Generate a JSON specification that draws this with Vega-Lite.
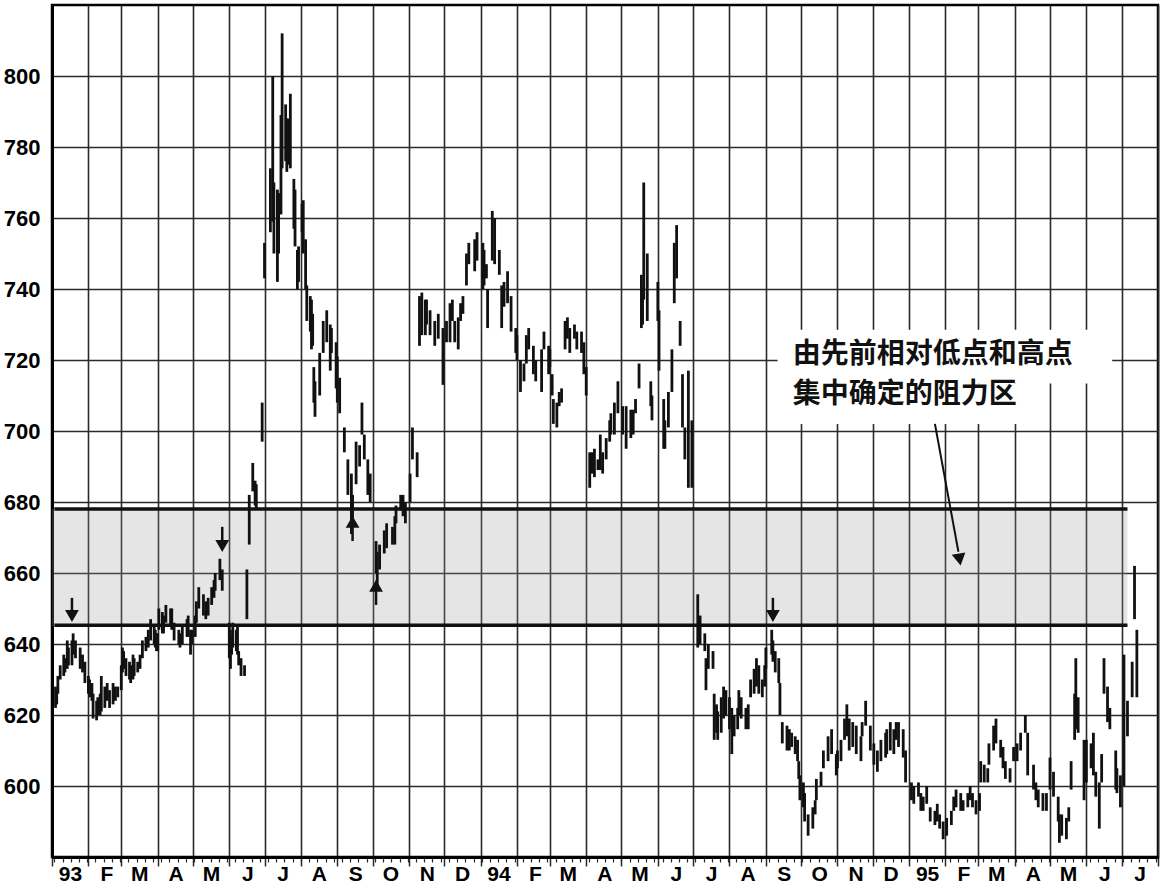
{
"$schema":"https://vega.github.io/schema/vega-lite/v6.json",
"width":1106,"height":852,
"autosize":{"type":"none"},
"padding":{"left":52,"top":5,"right":5,"bottom":29},
"background":"white",
"config":{"view":{"stroke":"#000","strokeWidth":2.5},
"axis":{"labelFont":"Liberation Sans","labelFontWeight":"bold","labelFontSize":22,"labelColor":"#000","gridColor":"#2a2a2a","gridWidth":1.6,"gridOpacity":1,"domainColor":"#000","domainWidth":3,"tickColor":"#2a2a2a","tickWidth":1.5}},
"datasets":{
"bars":[
{"d":"1993-01-04","h":628,"l":622},{"d":"1993-01-05","h":627,"l":623},{"d":"1993-01-06","h":631,"l":626},{"d":"1993-01-08","h":634,"l":630},{"d":"1993-01-11","h":637,"l":631},{"d":"1993-01-12","h":636,"l":632},{"d":"1993-01-14","h":641,"l":633},{"d":"1993-01-15","h":639,"l":634},{"d":"1993-01-18","h":641,"l":634},{"d":"1993-01-19","h":643,"l":637},{"d":"1993-01-21","h":641,"l":636},{"d":"1993-01-25","h":639,"l":633},{"d":"1993-01-27","h":637,"l":632},{"d":"1993-01-29","h":635,"l":629},
{"d":"1993-02-01","h":631,"l":626},{"d":"1993-02-02","h":630,"l":625},{"d":"1993-02-04","h":629,"l":624},{"d":"1993-02-05","h":626,"l":619},{"d":"1993-02-08","h":624,"l":618.5},{"d":"1993-02-09","h":625,"l":620},{"d":"1993-02-11","h":626,"l":620},{"d":"1993-02-12","h":631,"l":621},{"d":"1993-02-15","h":628,"l":622},{"d":"1993-02-17","h":629,"l":624},{"d":"1993-02-19","h":627,"l":622},{"d":"1993-02-22","h":629,"l":623},{"d":"1993-02-24","h":628,"l":624},{"d":"1993-02-26","h":628,"l":625},
{"d":"1993-03-01","h":634,"l":627},{"d":"1993-03-02","h":639,"l":632},{"d":"1993-03-03","h":638,"l":633},{"d":"1993-03-05","h":636,"l":631},{"d":"1993-03-08","h":635,"l":630},{"d":"1993-03-09","h":634,"l":629},{"d":"1993-03-11","h":637,"l":630},{"d":"1993-03-12","h":636,"l":631},{"d":"1993-03-15","h":635,"l":632},{"d":"1993-03-17","h":637,"l":633},{"d":"1993-03-19","h":641,"l":636},{"d":"1993-03-22","h":642,"l":638},{"d":"1993-03-24","h":644,"l":639},{"d":"1993-03-26","h":647,"l":641},{"d":"1993-03-29","h":645,"l":640},{"d":"1993-03-30","h":644,"l":639},{"d":"1993-03-31","h":643,"l":638},
{"d":"1993-04-01","h":643,"l":638},{"d":"1993-04-02","h":650,"l":644},{"d":"1993-04-05","h":649,"l":643},{"d":"1993-04-06","h":648,"l":643},{"d":"1993-04-08","h":651,"l":646},{"d":"1993-04-12","h":650,"l":645},{"d":"1993-04-13","h":650,"l":644},{"d":"1993-04-15","h":646,"l":641},{"d":"1993-04-19","h":644,"l":640},{"d":"1993-04-20","h":643,"l":639},{"d":"1993-04-22","h":645,"l":640},{"d":"1993-04-26","h":647,"l":642},{"d":"1993-04-27","h":648,"l":642},{"d":"1993-04-29","h":644,"l":637},{"d":"1993-04-30","h":644,"l":640},
{"d":"1993-05-03","h":648,"l":642},{"d":"1993-05-04","h":652,"l":646},{"d":"1993-05-06","h":656,"l":650},{"d":"1993-05-10","h":654,"l":648},{"d":"1993-05-12","h":652,"l":647},{"d":"1993-05-14","h":653,"l":648},{"d":"1993-05-17","h":656,"l":651},{"d":"1993-05-19","h":658,"l":653},{"d":"1993-05-20","h":660,"l":655},{"d":"1993-05-24","h":664,"l":658},{"d":"1993-05-26","h":661,"l":655},
{"d":"1993-06-01","h":646,"l":636},{"d":"1993-06-02","h":644,"l":633},{"d":"1993-06-03","h":642,"l":637},{"d":"1993-06-04","h":646,"l":639},{"d":"1993-06-07","h":644,"l":638},{"d":"1993-06-08","h":645,"l":637},{"d":"1993-06-09","h":638,"l":634},{"d":"1993-06-11","h":636,"l":631},{"d":"1993-06-14","h":634,"l":631},{"d":"1993-06-16","h":661,"l":647},{"d":"1993-06-18","h":682,"l":668},{"d":"1993-06-21","h":691,"l":683},{"d":"1993-06-23","h":686,"l":679},{"d":"1993-06-24","h":685,"l":678},{"d":"1993-06-29","h":708,"l":697},
{"d":"1993-07-01","h":753,"l":743},{"d":"1993-07-06","h":774,"l":756},{"d":"1993-07-08","h":800,"l":759},{"d":"1993-07-09","h":770,"l":750},{"d":"1993-07-12","h":768,"l":742},{"d":"1993-07-13","h":767,"l":750},{"d":"1993-07-15","h":789,"l":761},{"d":"1993-07-16","h":812,"l":774},{"d":"1993-07-19","h":792,"l":776},{"d":"1993-07-20","h":788,"l":773},{"d":"1993-07-21","h":788,"l":775},{"d":"1993-07-23","h":795,"l":774},{"d":"1993-07-26","h":771,"l":757},{"d":"1993-07-27","h":768,"l":752},{"d":"1993-07-29","h":751,"l":740},{"d":"1993-07-30","h":752,"l":742},
{"d":"1993-08-02","h":764,"l":756},{"d":"1993-08-03","h":765,"l":750},{"d":"1993-08-05","h":754,"l":740},{"d":"1993-08-06","h":741,"l":731},{"d":"1993-08-09","h":738,"l":728},{"d":"1993-08-10","h":737,"l":723},{"d":"1993-08-11","h":733,"l":724},{"d":"1993-08-12","h":718,"l":708},{"d":"1993-08-13","h":714,"l":704},{"d":"1993-08-17","h":722,"l":710},{"d":"1993-08-20","h":731,"l":722},{"d":"1993-08-23","h":734,"l":725},{"d":"1993-08-26","h":730,"l":717},{"d":"1993-08-27","h":729,"l":722},{"d":"1993-08-31","h":725,"l":712},
{"d":"1993-09-01","h":721,"l":708},{"d":"1993-09-03","h":715,"l":705},{"d":"1993-09-07","h":701,"l":694},{"d":"1993-09-10","h":692,"l":682},{"d":"1993-09-13","h":688,"l":671},{"d":"1993-09-14","h":682,"l":673},{"d":"1993-09-17","h":697,"l":685},{"d":"1993-09-20","h":696,"l":690},{"d":"1993-09-22","h":708,"l":699},{"d":"1993-09-24","h":699,"l":692},{"d":"1993-09-27","h":692,"l":682},{"d":"1993-09-29","h":688,"l":680},
{"d":"1993-10-04","h":669,"l":660},{"d":"1993-10-05","h":666,"l":655},{"d":"1993-10-07","h":668,"l":661},{"d":"1993-10-11","h":672,"l":665.5},{"d":"1993-10-13","h":674,"l":667},{"d":"1993-10-18","h":673,"l":668},{"d":"1993-10-20","h":676,"l":668},{"d":"1993-10-21","h":679,"l":674},{"d":"1993-10-25","h":682,"l":677.6},{"d":"1993-10-27","h":682,"l":676},{"d":"1993-10-29","h":680,"l":674},
{"d":"1993-11-02","h":688,"l":680},{"d":"1993-11-04","h":701,"l":692},{"d":"1993-11-08","h":694,"l":687},{"d":"1993-11-10","h":738,"l":724},{"d":"1993-11-12","h":739,"l":727},{"d":"1993-11-15","h":737,"l":727},{"d":"1993-11-16","h":737,"l":730},{"d":"1993-11-19","h":734,"l":727},{"d":"1993-11-23","h":731,"l":724},{"d":"1993-11-26","h":733,"l":726},{"d":"1993-11-30","h":729,"l":713},
{"d":"1993-12-03","h":731,"l":725},{"d":"1993-12-06","h":736,"l":725},{"d":"1993-12-08","h":737,"l":731},{"d":"1993-12-10","h":731,"l":725},{"d":"1993-12-13","h":732,"l":723},{"d":"1993-12-15","h":736,"l":731},{"d":"1993-12-17","h":738,"l":733},{"d":"1993-12-20","h":750,"l":741},{"d":"1993-12-22","h":753,"l":747},{"d":"1993-12-27","h":754,"l":745},{"d":"1993-12-29","h":756,"l":748},
{"d":"1994-01-03","h":753,"l":740},{"d":"1994-01-04","h":751,"l":741},{"d":"1994-01-06","h":747,"l":743},{"d":"1994-01-07","h":740,"l":729},{"d":"1994-01-11","h":762,"l":748},{"d":"1994-01-13","h":760,"l":747},{"d":"1994-01-17","h":751,"l":744},{"d":"1994-01-19","h":741,"l":729},{"d":"1994-01-21","h":742,"l":735},{"d":"1994-01-24","h":745,"l":736},{"d":"1994-01-27","h":738,"l":728},{"d":"1994-01-31","h":729,"l":722},
{"d":"1994-02-01","h":727,"l":720},{"d":"1994-02-04","h":720,"l":711},{"d":"1994-02-07","h":719,"l":714},{"d":"1994-02-09","h":727,"l":719},{"d":"1994-02-11","h":729,"l":723},{"d":"1994-02-15","h":724,"l":716},{"d":"1994-02-17","h":720,"l":714},{"d":"1994-02-22","h":723,"l":711},{"d":"1994-02-24","h":728,"l":723},{"d":"1994-02-28","h":724,"l":716},
{"d":"1994-03-01","h":723,"l":718},{"d":"1994-03-03","h":716,"l":710},{"d":"1994-03-04","h":709,"l":702},{"d":"1994-03-07","h":708,"l":701},{"d":"1994-03-09","h":711,"l":707},{"d":"1994-03-11","h":712,"l":708},{"d":"1994-03-14","h":731,"l":723},{"d":"1994-03-16","h":732,"l":726},{"d":"1994-03-18","h":729,"l":722},{"d":"1994-03-22","h":730,"l":726},{"d":"1994-03-24","h":728,"l":723},{"d":"1994-03-28","h":728,"l":722},{"d":"1994-03-30","h":725,"l":716},
{"d":"1994-04-01","h":718,"l":710},{"d":"1994-04-04","h":694,"l":684},{"d":"1994-04-06","h":694,"l":688},{"d":"1994-04-08","h":695,"l":687},{"d":"1994-04-11","h":692,"l":689},{"d":"1994-04-13","h":699,"l":689},{"d":"1994-04-15","h":694,"l":688},{"d":"1994-04-18","h":698,"l":692},{"d":"1994-04-21","h":703,"l":697},{"d":"1994-04-22","h":705,"l":699},{"d":"1994-04-25","h":708,"l":699},{"d":"1994-04-28","h":714,"l":705},
{"d":"1994-05-02","h":707,"l":699},{"d":"1994-05-05","h":707,"l":695},{"d":"1994-05-09","h":706,"l":698},{"d":"1994-05-11","h":706,"l":699},{"d":"1994-05-13","h":709,"l":705},{"d":"1994-05-16","h":719,"l":712},{"d":"1994-05-18","h":744,"l":729},{"d":"1994-05-19","h":740,"l":730},{"d":"1994-05-20","h":770,"l":737},{"d":"1994-05-23","h":750,"l":731},{"d":"1994-05-26","h":714,"l":707},{"d":"1994-05-27","h":710,"l":703},
{"d":"1994-06-01","h":742,"l":731},{"d":"1994-06-02","h":734,"l":717},{"d":"1994-06-06","h":709,"l":695},{"d":"1994-06-07","h":703,"l":695},{"d":"1994-06-10","h":711,"l":701},{"d":"1994-06-13","h":723,"l":711},{"d":"1994-06-15","h":753,"l":736},{"d":"1994-06-17","h":758,"l":743},{"d":"1994-06-20","h":731,"l":724},{"d":"1994-06-22","h":716,"l":701},{"d":"1994-06-24","h":701,"l":692},{"d":"1994-06-27","h":717,"l":684},{"d":"1994-06-30","h":703,"l":684},
{"d":"1994-07-05","h":654,"l":639},{"d":"1994-07-07","h":648,"l":640},{"d":"1994-07-11","h":643,"l":638},{"d":"1994-07-12","h":636,"l":627},{"d":"1994-07-14","h":640,"l":633},{"d":"1994-07-18","h":638,"l":633},{"d":"1994-07-19","h":626,"l":613},{"d":"1994-07-21","h":623,"l":615},{"d":"1994-07-22","h":621,"l":613},{"d":"1994-07-25","h":625,"l":615},{"d":"1994-07-27","h":628,"l":619},{"d":"1994-07-29","h":627,"l":620},
{"d":"1994-08-01","h":625,"l":616},{"d":"1994-08-03","h":622,"l":609},{"d":"1994-08-05","h":620,"l":614},{"d":"1994-08-08","h":622,"l":616},{"d":"1994-08-09","h":627,"l":620},{"d":"1994-08-11","h":625,"l":619},{"d":"1994-08-15","h":622,"l":616},{"d":"1994-08-17","h":623,"l":616},{"d":"1994-08-19","h":630,"l":625},{"d":"1994-08-22","h":633,"l":626},{"d":"1994-08-24","h":636,"l":628},{"d":"1994-08-26","h":634,"l":626},{"d":"1994-08-29","h":630,"l":625},{"d":"1994-08-31","h":634,"l":628},
{"d":"1994-09-01","h":639,"l":633},{"d":"1994-09-06","h":644,"l":637},{"d":"1994-09-07","h":641,"l":635},{"d":"1994-09-09","h":638,"l":632},{"d":"1994-09-12","h":636,"l":629},{"d":"1994-09-13","h":629,"l":620},{"d":"1994-09-15","h":618,"l":612},{"d":"1994-09-19","h":617,"l":610},{"d":"1994-09-21","h":616,"l":610},{"d":"1994-09-23","h":615,"l":611},{"d":"1994-09-26","h":614,"l":609},{"d":"1994-09-28","h":613,"l":607},{"d":"1994-09-29","h":607,"l":602},{"d":"1994-09-30","h":603,"l":596},
{"d":"1994-10-03","h":601,"l":594},{"d":"1994-10-04","h":598,"l":590},{"d":"1994-10-07","h":592,"l":586},{"d":"1994-10-11","h":594,"l":588},{"d":"1994-10-13","h":596,"l":592},{"d":"1994-10-14","h":602,"l":596},{"d":"1994-10-18","h":604,"l":600},{"d":"1994-10-20","h":610,"l":605},{"d":"1994-10-24","h":614,"l":607},{"d":"1994-10-27","h":616,"l":609},{"d":"1994-10-31","h":609,"l":603},
{"d":"1994-11-01","h":610,"l":605},{"d":"1994-11-04","h":613,"l":607},{"d":"1994-11-07","h":619,"l":613},{"d":"1994-11-09","h":623,"l":614},{"d":"1994-11-11","h":619,"l":610},{"d":"1994-11-14","h":618,"l":611},{"d":"1994-11-17","h":617,"l":609},{"d":"1994-11-21","h":614,"l":607},{"d":"1994-11-22","h":618,"l":614},{"d":"1994-11-25","h":624,"l":617},{"d":"1994-11-29","h":617,"l":610},
{"d":"1994-12-02","h":612,"l":606},{"d":"1994-12-05","h":610,"l":604},{"d":"1994-12-08","h":613,"l":607},{"d":"1994-12-12","h":615,"l":608},{"d":"1994-12-13","h":616,"l":609},{"d":"1994-12-16","h":618,"l":610},{"d":"1994-12-19","h":616,"l":609},{"d":"1994-12-21","h":618,"l":613},{"d":"1994-12-23","h":618,"l":611},{"d":"1994-12-27","h":616,"l":608},{"d":"1994-12-29","h":610,"l":601},
{"d":"1995-01-03","h":601,"l":596},{"d":"1995-01-05","h":600,"l":595},{"d":"1995-01-09","h":601,"l":597},{"d":"1995-01-11","h":598,"l":593},{"d":"1995-01-13","h":597,"l":593},{"d":"1995-01-16","h":600,"l":595},{"d":"1995-01-19","h":594,"l":590},{"d":"1995-01-23","h":593,"l":589},{"d":"1995-01-25","h":595,"l":590},{"d":"1995-01-27","h":592,"l":588},{"d":"1995-01-30","h":590,"l":585},
{"d":"1995-02-02","h":591,"l":586},{"d":"1995-02-06","h":593,"l":589},{"d":"1995-02-08","h":597,"l":593},{"d":"1995-02-10","h":599,"l":594},{"d":"1995-02-14","h":598,"l":593},{"d":"1995-02-16","h":596,"l":593},{"d":"1995-02-20","h":598,"l":594},{"d":"1995-02-22","h":600,"l":596},{"d":"1995-02-24","h":598,"l":594},{"d":"1995-02-27","h":596,"l":592},
{"d":"1995-03-02","h":598,"l":593},{"d":"1995-03-03","h":607,"l":601},{"d":"1995-03-06","h":606,"l":601},{"d":"1995-03-09","h":605,"l":601},{"d":"1995-03-10","h":612,"l":606},{"d":"1995-03-14","h":617,"l":610},{"d":"1995-03-16","h":619,"l":612},{"d":"1995-03-20","h":613,"l":608},{"d":"1995-03-22","h":611,"l":605},{"d":"1995-03-24","h":607,"l":602},{"d":"1995-03-28","h":605,"l":601},{"d":"1995-03-31","h":611,"l":607},
{"d":"1995-04-03","h":612,"l":607},{"d":"1995-04-06","h":615,"l":610},{"d":"1995-04-10","h":620,"l":615},{"d":"1995-04-12","h":615,"l":603},{"d":"1995-04-17","h":606,"l":599},{"d":"1995-04-19","h":601,"l":596},{"d":"1995-04-21","h":599,"l":594},{"d":"1995-04-25","h":598,"l":593},{"d":"1995-04-28","h":598,"l":593},
{"d":"1995-05-01","h":608,"l":599},{"d":"1995-05-04","h":604,"l":597},{"d":"1995-05-08","h":597,"l":590},{"d":"1995-05-09","h":592,"l":584},{"d":"1995-05-11","h":592,"l":586},{"d":"1995-05-15","h":591,"l":585},{"d":"1995-05-17","h":594,"l":590},{"d":"1995-05-19","h":607,"l":599},{"d":"1995-05-22","h":626,"l":613},{"d":"1995-05-23","h":636,"l":616},{"d":"1995-05-25","h":625,"l":615},{"d":"1995-05-30","h":613,"l":596},{"d":"1995-05-31","h":608,"l":601},
{"d":"1995-06-01","h":613,"l":601},{"d":"1995-06-05","h":612,"l":605},{"d":"1995-06-07","h":615,"l":603},{"d":"1995-06-09","h":604,"l":597},{"d":"1995-06-12","h":601,"l":588},{"d":"1995-06-14","h":609,"l":601},{"d":"1995-06-16","h":636,"l":626},{"d":"1995-06-19","h":628,"l":618},{"d":"1995-06-21","h":622,"l":616},{"d":"1995-06-26","h":610,"l":599},{"d":"1995-06-27","h":605,"l":598},{"d":"1995-06-30","h":603,"l":594},
{"d":"1995-07-03","h":637,"l":600},{"d":"1995-07-06","h":624,"l":614},{"d":"1995-07-10","h":635,"l":625},{"d":"1995-07-12","h":662,"l":647},{"d":"1995-07-14","h":644,"l":625}
],
"zone":[{"d":"1993-01-01","d2":"1995-07-06","lo":645,"hi":678}],
"zlines":[{"d":"1993-01-03","d2":"1995-07-06","p":678},{"d":"1993-01-03","d2":"1995-07-06","p":645.3}],
"marks":[
{"d":"1993-01-18","p":653,"p2":649,"ph":647.9,"dir":"down"},
{"d":"1993-05-26","p":673,"p2":669,"ph":667.6,"dir":"down"},
{"d":"1993-09-14","p":669,"p2":673,"ph":674.4,"dir":"up"},
{"d":"1993-10-04","p":651,"p2":655,"ph":656.4,"dir":"up"},
{"d":"1994-09-07","p":653,"p2":649,"ph":647.9,"dir":"down"}],
"box":[{"d":"1994-09-11","d2":"1995-06-23","p":713.4,"p2":728.5},{"d":"1994-09-11","d2":"1995-04-22","p":702,"p2":713.4}],
"note":[{"d":"1994-09-24","p":721.3,"t":"由先前相对低点和高点"},{"d":"1994-09-24","p":710.2,"t":"集中确定的阻力区"}],
"arrow":[{"d":"1995-01-23","p":702,"d2":"1995-02-12","p2":666}],
"head":[{"d":"1995-02-13","p":663.8}]
},
"layer":[
{"data":{"name":"zone"},"mark":{"type":"rect","fill":"#999","opacity":0.25},
 "encoding":{
  "x":{"field":"d","type":"temporal","scale":{"type":"utc","domain":[{"year":1993,"month":1,"date":1,"utc":true},{"year":1995,"month":8,"date":1,"utc":true}]},
       "axis":{"title":null,"orient":"bottom","tickCount":{"interval":"week","step":1},"grid":false,"labels":false,"domain":false,"tickSize":5,"tickWidth":1.2}},
  "x2":{"field":"d2"},
  "y":{"field":"lo","type":"quantitative","scale":{"domain":[580,820],"nice":false,"zero":false},
       "axis":{"title":null,"orient":"left","values":[600,620,640,660,680,700,720,740,760,780,800],"grid":true,"ticks":false,"labelPadding":12}},
  "y2":{"field":"hi"}}},
{"data":{"name":"bars"},"mark":{"type":"rule","color":"#111","strokeWidth":2.8},
 "encoding":{
  "x":{"field":"d","type":"temporal","scale":{"type":"utc","domain":[{"year":1993,"month":1,"date":1,"utc":true},{"year":1995,"month":8,"date":1,"utc":true}]},
       "axis":{"title":null,"orient":"bottom","tickCount":{"interval":"month","step":1},"grid":true,"tickSize":9,"labelPadding":-3,"labelOffset":18,"labelAlign":"center","labelFlush":false,"labelOverlap":false,"labelFontSize":21,
               "labelExpr":"utcmonth(datum.value)==0 ? utcFormat(datum.value,'%y') : ((utcyear(datum.value)==1995 && utcmonth(datum.value)==7) ? '' : slice(utcFormat(datum.value,'%b'),0,1))"}},
  "y":{"field":"l","type":"quantitative","scale":{"domain":[580,820],"nice":false,"zero":false},
       "axis":{"title":null,"orient":"left","values":[600,620,640,660,680,700,720,740,760,780,800],"grid":true,"ticks":false,"labelPadding":12}},
  "y2":{"field":"h"}}},
{"data":{"name":"zlines"},"mark":{"type":"rule","color":"#111","strokeWidth":3.5},
 "encoding":{
  "x":{"field":"d","type":"temporal","scale":{"type":"utc","domain":[{"year":1993,"month":1,"date":1,"utc":true},{"year":1995,"month":8,"date":1,"utc":true}]},"axis":null},
  "x2":{"field":"d2"},
  "y":{"field":"p","type":"quantitative","scale":{"domain":[580,820],"nice":false,"zero":false},
       "axis":{"title":null,"orient":"left","values":[600,620,640,660,680,700,720,740,760,780,800],"grid":true,"ticks":false,"labelPadding":12}}}},
{"data":{"name":"marks"},"mark":{"type":"rule","color":"#111","strokeWidth":2.5},
 "encoding":{
  "x":{"field":"d","type":"temporal","scale":{"type":"utc","domain":[{"year":1993,"month":1,"date":1,"utc":true},{"year":1995,"month":8,"date":1,"utc":true}]},"axis":null},
  "y":{"field":"p","type":"quantitative","scale":{"domain":[580,820],"nice":false,"zero":false},
       "axis":{"title":null,"orient":"left","values":[600,620,640,660,680,700,720,740,760,780,800],"grid":true,"ticks":false,"labelPadding":12}},
  "y2":{"field":"p2"}}},
{"data":{"name":"marks"},"mark":{"type":"point","filled":true,"color":"#111","opacity":1,"size":190},
 "encoding":{
  "x":{"field":"d","type":"temporal","scale":{"type":"utc","domain":[{"year":1993,"month":1,"date":1,"utc":true},{"year":1995,"month":8,"date":1,"utc":true}]},"axis":null},
  "y":{"field":"ph","type":"quantitative","scale":{"domain":[580,820],"nice":false,"zero":false},
       "axis":{"title":null,"orient":"left","values":[600,620,640,660,680,700,720,740,760,780,800],"grid":true,"ticks":false,"labelPadding":12}},
  "shape":{"field":"dir","type":"nominal","scale":{"domain":["down","up"],"range":["triangle-down","triangle-up"]},"legend":null}}},
{"data":{"name":"box"},"mark":{"type":"rect","fill":"white","opacity":1},
 "encoding":{
  "x":{"field":"d","type":"temporal","scale":{"type":"utc","domain":[{"year":1993,"month":1,"date":1,"utc":true},{"year":1995,"month":8,"date":1,"utc":true}]},"axis":null},
  "x2":{"field":"d2"},
  "y":{"field":"p","type":"quantitative","scale":{"domain":[580,820],"nice":false,"zero":false},
       "axis":{"title":null,"orient":"left","values":[600,620,640,660,680,700,720,740,760,780,800],"grid":true,"ticks":false,"labelPadding":12}},
  "y2":{"field":"p2"}}},
{"data":{"name":"note"},"mark":{"type":"text","align":"left","baseline":"middle","font":"Noto Sans CJK SC","fontSize":28,"fontWeight":"bold","color":"#111"},
 "encoding":{
  "x":{"field":"d","type":"temporal","scale":{"type":"utc","domain":[{"year":1993,"month":1,"date":1,"utc":true},{"year":1995,"month":8,"date":1,"utc":true}]},"axis":null},
  "y":{"field":"p","type":"quantitative","scale":{"domain":[580,820],"nice":false,"zero":false},
       "axis":{"title":null,"orient":"left","values":[600,620,640,660,680,700,720,740,760,780,800],"grid":true,"ticks":false,"labelPadding":12}},
  "text":{"field":"t","type":"nominal"}}},
{"data":{"name":"arrow"},"mark":{"type":"rule","color":"#111","strokeWidth":2},
 "encoding":{
  "x":{"field":"d","type":"temporal","scale":{"type":"utc","domain":[{"year":1993,"month":1,"date":1,"utc":true},{"year":1995,"month":8,"date":1,"utc":true}]},"axis":null},
  "x2":{"field":"d2"},
  "y":{"field":"p","type":"quantitative","scale":{"domain":[580,820],"nice":false,"zero":false},
       "axis":{"title":null,"orient":"left","values":[600,620,640,660,680,700,720,740,760,780,800],"grid":true,"ticks":false,"labelPadding":12}},
  "y2":{"field":"p2"}}},
{"data":{"name":"head"},"mark":{"type":"point","filled":true,"color":"#111","opacity":1,"size":190,"shape":"triangle-down","angle":350},
 "encoding":{
  "x":{"field":"d","type":"temporal","scale":{"type":"utc","domain":[{"year":1993,"month":1,"date":1,"utc":true},{"year":1995,"month":8,"date":1,"utc":true}]},"axis":null},
  "y":{"field":"p","type":"quantitative","scale":{"domain":[580,820],"nice":false,"zero":false},
       "axis":{"title":null,"orient":"left","values":[600,620,640,660,680,700,720,740,760,780,800],"grid":true,"ticks":false,"labelPadding":12}}}}
],
"resolve":{"axis":{"x":"independent"}}
}
